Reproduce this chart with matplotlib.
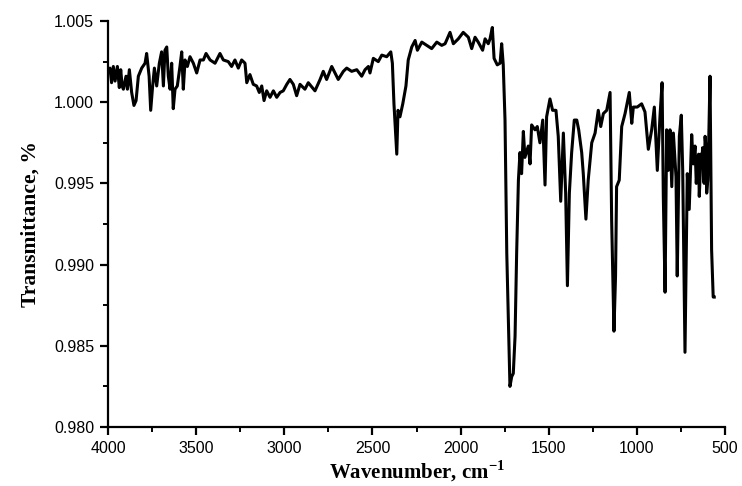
import matplotlib
matplotlib.use("Agg")
import matplotlib.pyplot as plt
from matplotlib.ticker import MultipleLocator

# FTIR spectrum (wavenumber in cm-1, transmittance)
wavenumber = [
    3998, 3989, 3980, 3970, 3960, 3947, 3936, 3928, 3920, 3913, 3898, 3890, 3879, 3866,
    3853, 3841, 3828, 3809, 3790, 3781, 3767, 3758, 3747, 3737, 3724, 3709,
    3696, 3686, 3677, 3667, 3658, 3648, 3639, 3630, 3620, 3607, 3592, 3582,
    3573, 3563, 3550, 3535, 3516, 3497, 3478, 3459, 3444, 3421, 3393, 3365,
    3346, 3318, 3299, 3280, 3261, 3242, 3223, 3213, 3195, 3176, 3157, 3142,
    3128, 3115, 3100, 3081, 3062, 3043, 3024, 3006, 2986, 2968, 2949, 2930,
    2911, 2883, 2864, 2826, 2797, 2779, 2760, 2731, 2694, 2665, 2646, 2618,
    2589, 2561, 2542, 2523, 2514, 2495, 2467, 2447, 2419, 2396, 2387, 2378,
    2362, 2355, 2344, 2328, 2310, 2297, 2277, 2258, 2245, 2220, 2192, 2164,
    2135, 2107, 2088, 2060, 2041, 2013, 1985, 1956, 1937, 1918, 1900, 1875,
    1861, 1843, 1833, 1820, 1810, 1792, 1776, 1767, 1758, 1748, 1738, 1729,
    1720, 1710, 1701, 1691, 1682, 1672, 1663, 1654, 1644, 1635, 1616, 1606,
    1597, 1578, 1565, 1550, 1534, 1521, 1512, 1493, 1478, 1459, 1446, 1432,
    1417, 1404, 1394, 1383, 1370, 1355, 1341, 1330, 1313, 1304, 1289, 1276,
    1256, 1237, 1219, 1205, 1190, 1171, 1152, 1143, 1130, 1121, 1115, 1100,
    1086, 1067, 1043, 1029, 1020, 998, 973, 954, 935, 916, 901, 884,
    869, 857, 850, 840, 831, 822, 812, 802, 793, 778, 771, 759,
    748, 740, 727, 714, 703, 689, 680, 670, 663, 657, 650, 646, 643, 639,
    632, 627, 622, 618, 613, 608, 604, 598, 593, 585, 576, 567, 561,
]
transmittance = [
    1.0020, 1.0021, 1.0012, 1.0022, 1.0013, 1.0022, 1.0009, 1.0020, 1.0010, 1.0008, 1.0016, 1.0008, 1.0020, 1.0006,
    0.9998, 1.0001, 1.0016, 1.0021, 1.0024, 1.0030, 1.0016, 0.9995, 1.0010, 1.0021, 1.0010, 1.0024,
    1.0031, 1.0010, 1.0032, 1.0034, 1.0016, 1.0008, 1.0024, 0.9996, 1.0008, 1.0010, 1.0022, 1.0031,
    1.0008, 1.0026, 1.0022, 1.0028, 1.0024, 1.0018, 1.0026, 1.0026, 1.0030, 1.0026, 1.0024, 1.0030,
    1.0026, 1.0025, 1.0022, 1.0026, 1.0021, 1.0026, 1.0024, 1.0012, 1.0017, 1.0011, 1.0010, 1.0006,
    1.0010, 1.0001, 1.0007, 1.0003, 1.0007, 1.0003, 1.0006, 1.0007, 1.0011, 1.0014, 1.0011, 1.0004,
    1.0011, 1.0008, 1.0012, 1.0007, 1.0014, 1.0019, 1.0014, 1.0022, 1.0014, 1.0019, 1.0021, 1.0019,
    1.0020, 1.0016, 1.0020, 1.0022, 1.0018, 1.0027, 1.0025, 1.0029, 1.0028, 1.0031, 1.0024, 0.9999,
    0.9968, 0.9995, 0.9991, 0.9999, 1.0010, 1.0026, 1.0034, 1.0038, 1.0032, 1.0037, 1.0035, 1.0033,
    1.0037, 1.0035, 1.0036, 1.0043, 1.0036, 1.0039, 1.0043, 1.0040, 1.0033, 1.0040, 1.0037, 1.0032,
    1.0039, 1.0036, 1.0039, 1.0046, 1.0027, 1.0023, 1.0024, 1.0036, 1.0023, 0.9989, 0.9907, 0.9866,
    0.9825, 0.9831, 0.9833, 0.9856, 0.9907, 0.9952, 0.9969, 0.9956, 0.9982, 0.9966, 0.9973, 0.9962,
    0.9986, 0.9983, 0.9985, 0.9975, 0.9989, 0.9949, 0.9991, 1.0002, 0.9995, 0.9995, 0.9979, 0.9939,
    0.9981, 0.9944, 0.9887, 0.9944, 0.9969, 0.9989, 0.9989, 0.9983, 0.9969, 0.9956, 0.9928, 0.9952,
    0.9975, 0.9981, 0.9995, 0.9985, 0.9993, 0.9995, 1.0006, 0.9927, 0.9859, 0.9893, 0.9948, 0.9952,
    0.9985, 0.9993, 1.0006, 0.9987, 0.9997, 0.9997, 0.9999, 0.9994, 0.9971, 0.9983, 0.9997, 0.9958,
    0.9991, 1.0012, 0.9942, 0.9883, 0.9983, 0.9958, 0.9983, 0.9948, 0.9981, 0.9954, 0.9893, 0.9979,
    0.9992, 0.9958, 0.9846, 0.9956, 0.9934, 0.9980, 0.9962, 0.9973, 0.9950, 0.9962, 0.9968, 0.9942, 0.9950, 0.9968,
    0.9962, 0.9972, 0.9952, 0.9950, 0.9979, 0.9972, 0.9944, 0.9952, 0.9973, 1.0016, 0.9909, 0.9880, 0.9880,
]

x_ticks = [4000, 3500, 3000, 2500, 2000, 1500, 1000, 500]
y_ticks = [0.980, 0.985, 0.990, 0.995, 1.000, 1.005]

plt.rcParams['mathtext.fontset'] = 'custom'
plt.rcParams['mathtext.rm'] = 'Liberation Serif:bold'
plt.rcParams['mathtext.bf'] = 'Liberation Serif:bold'

fig = plt.figure(figsize=(7.42, 4.86), dpi=100)
ax = fig.add_axes([0.1456, 0.1214, 0.8315, 0.8354])

ax.plot(wavenumber, transmittance, color='black', linewidth=2.2)

ax.set_xlim(4000, 500)
ax.set_ylim(0.980, 1.005)
ax.set_xticks(x_ticks)
ax.set_yticks(y_ticks)
ax.set_yticklabels([f'{v:.3f}' for v in y_ticks])
ax.xaxis.set_minor_locator(MultipleLocator(250))
ax.yaxis.set_minor_locator(MultipleLocator(0.0025))

for side in ['top', 'right']:
    ax.spines[side].set_visible(False)
for side in ['left', 'bottom']:
    ax.spines[side].set_linewidth(1.6)

ax.tick_params(which='major', direction='out', length=6, width=1.6, pad=4,
               labelsize=11.5)
ax.tick_params(which='minor', direction='out', length=3.5, width=1.4)
for lab in ax.get_xticklabels() + ax.get_yticklabels():
    lab.set_fontfamily('Liberation Sans')

ax.set_xlabel(r'Wavenumber, cm$^{-1}$', fontsize=15, fontweight='bold',
              fontfamily='Liberation Serif', labelpad=2)
ax.set_ylabel('Transmittance, %', fontsize=15.5, fontweight='bold',
              fontfamily='Liberation Serif', labelpad=10)

fig.savefig('out.png', dpi=100)
